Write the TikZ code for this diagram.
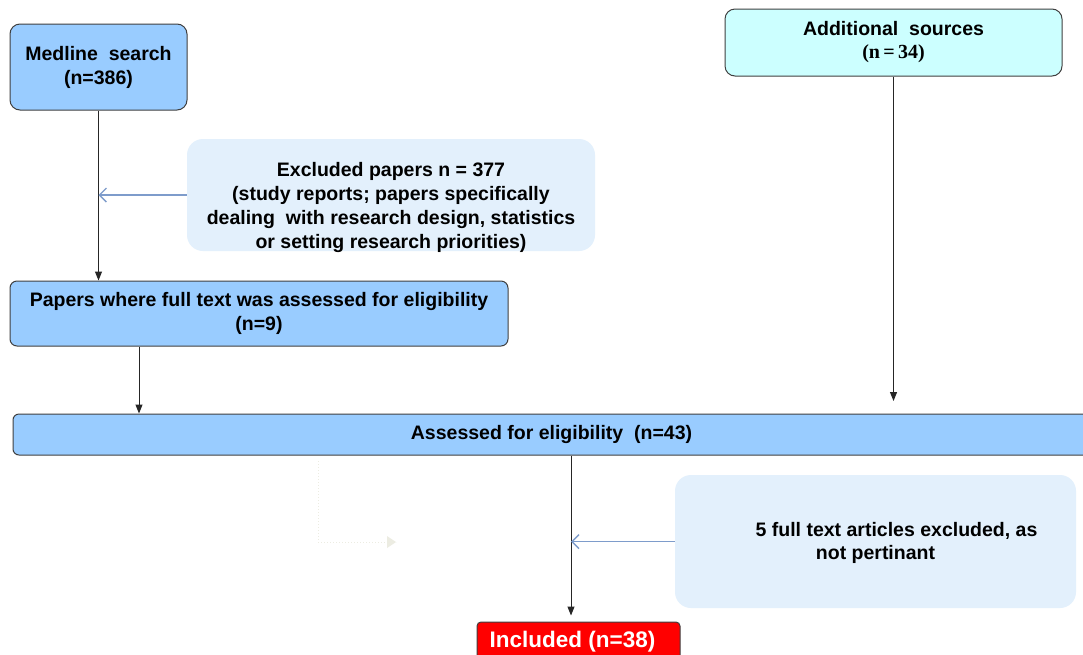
\documentclass[tikz,border=0pt]{standalone}
\usepackage{fontspec}
\setmainfont{Liberation Sans}
\newfontfamily\serifb{Liberation Serif}
\usetikzlibrary{arrows.meta}
\definecolor{boxblue}{HTML}{99CCFF}
\definecolor{boxcyan}{HTML}{CCFFFF}
\definecolor{exfill}{HTML}{E3F0FC}
\definecolor{boxline}{HTML}{404040}
\definecolor{bluearrow}{HTML}{7E9CCB}
\definecolor{ghost}{HTML}{ECECE2}
\definecolor{incred}{HTML}{FF0000}
\begin{document}
\begin{tikzpicture}[x=1pt,y=-1pt,
  txt/.style={font=\fontsize{19.5}{24}\selectfont\bfseries, align=center, inner sep=0pt},
  mainbox/.style={txt, draw=boxline, line width=1pt, fill=boxblue, rounded corners=10pt},
  exbox/.style={fill=exfill, rounded corners=16pt, inner sep=0pt},
  arr/.style={draw=black!85, line width=1pt, -{Triangle[length=9pt,width=7pt]}},
  barr/.style={draw=bluearrow, line width=1.4pt, -{Straight Barb[length=7pt,width=14pt]}}
]
\useasboundingbox (0,0) rectangle (1083,654);
\fill[white] (0,0) rectangle (1083,654);
\begin{scope}
\clip (0,0) rectangle (1083,654);
% boxes
\node[mainbox, minimum width=177pt, minimum height=86pt] (medline) at (98.5,67) {Medline\ \ search\\(n=386)};
\node[mainbox, fill=boxcyan, minimum width=337pt, minimum height=67pt] (addl) at (893.5,42.5)
  {Additional\ \ sources\\[-1pt]{\serifb\fontsize{20}{24}\selectfont (n\,=\,34)}};
\node[exbox, minimum width=408pt, minimum height=112pt] (ex1) at (391,195) {};
\node[txt] (ex1t) at (391,207) {Excluded papers n = 377\\(study reports; papers specifically\\dealing\ \ with research design, statistics\\or setting research priorities)};
\node[mainbox, rounded corners=7pt, minimum width=498pt, minimum height=65pt] (papers) at (259,313.5)
  {Papers where full text was assessed for eligibility\\(n=9)};
\node[mainbox, rounded corners=6pt, minimum width=1077pt, minimum height=41pt] (assessed) at (551.5,434.5)
  {Assessed for eligibility\ \ (n=43)};
\node[exbox, minimum width=401pt, minimum height=133pt] (ex2) at (875.5,541.5) {};
\node[txt, font=\fontsize{19.5}{23}\selectfont\bfseries] (ex2t) at (875.5,543)
  {\hspace*{42pt}5 full text articles excluded, as\\not pertinant};
\node[txt, draw=boxline, line width=1pt, fill=incred, text=white, rounded corners=4pt,
  minimum width=203pt, minimum height=40pt, font=\fontsize{22.5}{26}\selectfont\bfseries] (incl) at (578.5,642)
  {\raisebox{4pt}{\hspace*{-12pt}Included (n=38)}};
% connectors
\coordinate (addlend) at (893.5,401);
\coordinate (midx) at (571,0);
\coordinate (ghostA) at (318,461);
\coordinate (ghostB) at (318,542);
\coordinate (ghostC) at (396,542);
\draw[arr] (medline.south) -- (papers.north -| medline.south);
\draw[barr] (ex1.west) -- (ex1.west -| medline.south);
\draw[arr] ([xshift=-120pt]papers.south) -- ([xshift=-120pt]papers.south |- assessed.north);
\draw[arr] (addl.south) -- (addlend);
\draw[arr, shorten >=6pt] (assessed.south -| midx) -- (incl.north -| midx);
\draw[barr] (ex2.west) -- (ex2.west -| midx);
\draw[ghost, line width=1pt, dotted] (ghostA) -- (ghostB) -- (ghostC);
\fill[ghost] (ghostC) -- ++(-9,-6) -- ++(0,12) -- cycle;
\end{scope}
\end{tikzpicture}
\end{document}
